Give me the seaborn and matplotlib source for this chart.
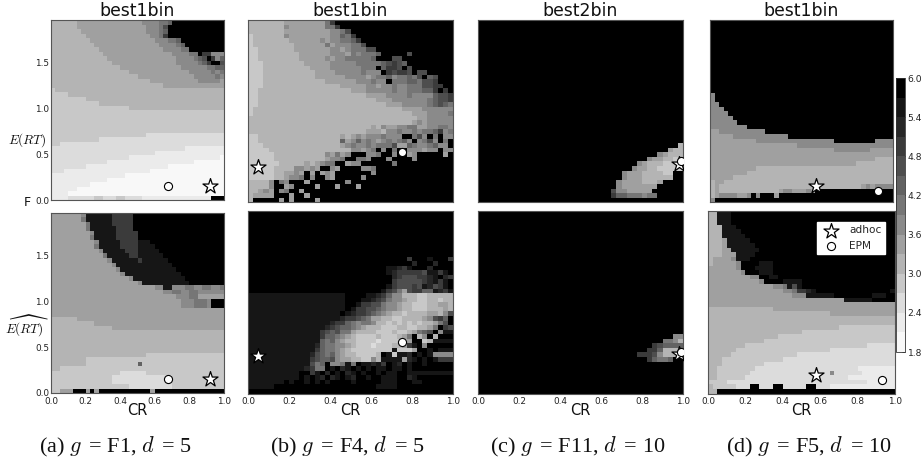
import re
import numpy as np
import pandas as pd
import seaborn as sns
import matplotlib
matplotlib.use("Agg")
import matplotlib.pyplot as plt
from matplotlib.colors import ListedColormap

W, H = 923, 461
N = 40
FMAX = 1.96

# a (lightest, 1.95) ... n (black, 5.85); letter + optional run length; the last letter fills the row
A1 = ["e6f15g4h2in","e6f16g3hjn","e7f15g3hin","e8f15g2hkn","e9f15g3hhin","e10f15g4hin","e11f15g4hhn",
"e12f16g4h2nkkgg","e13f16g4hijnkgi","e14f15g5hiknnjh","e16f14g6hhiijkk","e18f14g5hghi","e20f13g5hgg","e23f11g5f",
"e26f14","d1e39","d4e36","d8e32","d11e29","d18e22","d40","d40","d40","d40","d40","d22c18","d11c29","d2c38",
"c31b9","c24b16","c18b21a","c13b20a","c8b19a","c3b20a","b17a","b13a","b9a","b6a","b4a","b4c6d2c3d2c4b16n3"]
A2 = ["f7gm6k5n","f7hm6k5n","f8hm5k5n","f8hm6k4n","f9gm5k5n","f9hm5k5n","f10gm5k4m3n","f10hm5k4m4n","f11gm5k3m5n",
"f12hm5k2m6n","f13gm6km6n","f14gm13n","f15gm13n","f16gm13n","f18gm12n","f20gm11n","f24g2m2g3h2g2h2g2hjn","f26g2h2g2h2g4g2g",
"f29g3h2f6","f30g3h3gnnn","f30g3h3gn6","f30f10","f40","e6f34","e10f30","e14f26","e40","e40","e40","e40",
"e40","e22d18","e8d32","e8d12id19","e2d38","d16c6d18","d14c14d12","d14c14d12","d18c10d4","d2f3n3fnfnnn3n7fn17"]
B1 = ["e7f8hkn","e7gf7hhkn","e7f9gghjn","d1e6gf8ggihkn","d1e7f6gfgghhikn","d1e8f6hfggghhjn","d2e7f7ggfghhhjjn",
"d2e8f6gggfhghhhin5jn","d2e8f5gfgghhhhhin3jjn","d3e8f5ggggghhhhhijkjin","d3e9f4gggggghhhnikkjnjn",
"d3e10f4ggggghgggnkjkkjnjjn","d3e10f6ggggfghhighhihjnijn","d3e12f6ggghggnhhhiihjjkn","d3e15f5ggfgghgghhhjjkkn",
"d2e18f3g5hgghhhiiknkn","d2e21f4g4hggggijjkhn","d2e23f3g7hijjkhn","d2e25f3g5hijihn","d1e29f4g6ijjin",
"d1e31f3g4hjjggn","e33ffggggghhgn","e32fgfggggghggghn","e24fegffgghhffgghhgnn","e23f3egghgghghhikghngg",
"d2e16fefgfggghgggnnhjgnhngg","d2e16ifgighgfghghignghjgnhngn","d3e15fghgghghhhjffihgghiggnnn","d4e16ggfghngnhnngggfggngggn",
"d5e10gfhfgnnngghnngnnfgn5fnfn","d5e10fgghnnhhgnnngnn3gn","d6e5fefghhnnfggnnn4hn","d5e4ggfgfnngfnnnngghn","d5e2ffgfnfnfgfnnn5gn","d5e2fgghngnngfn5gn",
"e4gnhgnnnfn7gn","e4gnnfgnnnnfn3fn3fn","e2fgfnghnnfn","e1f4n3fnnfn","en5fnfnnnnfn"]
B2 = ["n"]*10 + ["n31kn3mn3kn","n32ln3ln3ln","n27mmlkmn3ln4mn","n27mlkkkkkjmmkmn","n28lkjjjkklmnlkn","n28kjjjjjklmkmn",
"n27mkjjjkjmljkmn","n26mkjhfjkkiimlkmn","m19n4m2lkiggeeeddeeeeeef","m19n3m2lkjhggfeeddeedeee","m19n2mkkjjhggfeedddeeffenn",
"m19nmkkjjihggfeedddeeefeegk","m18nmlkkjihgfeedeeeeffegjl","m17mlkkjihffeeddeeeefgjkin","m16lkkihghhgeededededeefhjnmk",
"m15lkjiihgfeeedddeeddeefhnkj","m14kjijhhfeeeedddeddefhijngm","m14kiihgfeddddedddefhnegnen","m14ihigfeeddddcddddefnndem",
"m13lihhggfedddcdddeefkmngn","m13kihhgfeddddddddmdddfnnmnm","m12ljihigfeeddddenmdmmlnmnmg","m12kjiijgffeeddgemmmmflmnmnmk",
"m12jhingghmhnmmlmknmlnmnnmn","m11lkhhnmnlmnmnmnmmnmmnmn","m10nnkmnlnmnlmnmnnmnmmnnmm","m10nmnmlnlmnmlnnmnnmmmnnlmnn",
"m7nmnnmnmnmnnnnmnnnnnmmmnnnmmn","m5n20mmmmn","n"]
C1 = ["n40"]*27 + ["n39e","n37fee","n35gfeee","n33gffeedd","n31gfeeedddd","n30gffeeddddd","n28gfffeeeeddn","n28gfffeeeeeen",
"n27gffffeeefn","n27gfffffffn","n26jggfffffn","n26kiihhhghhn","n40"]
C2 = ["n40"]*27 + ["n38gg","n36hhge","n34kjiiiiii","n33kkieeedd","n31kkkjgeeeeei","n33kihhin3kn","n40"] + ["n40"]*6
D1 = ["n40"]*16 + ["gn","gn","g2n","g3n","g4n","g5n","g6n","g8n","f2g10n","f5g12n","f10g17n9g","f19g","f27g8f5","f40",
"f36e4","f32e8","f10e30","f8e32","f5e35","e1f2e37","efe31fgfgg","efe13fggfffgfn","efggggffgngnnnfn","gn"]
D2 = ["e2m3n","e2m3n","e2m3n","e3m3n","e3m4n","e3m5n","e3fm5n","e3fm6n","e3ffm6n","e3fffm4n","ef4gm3n","ef5gn4m3n",
"f6gn3m4n","f7gn3m3n","f9ggnnm2n","f11gn4m4n","f14gghmjmn20mm","f16gghkklmn16mm","f18g3m6n8mmmn","f29m6n",
"f40","e14f26","e26f14","e40","e40","e28d12","e20d20","e15d25","e12d28","e8d26c6","e6d20c14","e5d14c21","e3d13c24",
"e3d9c28","e2d8c22b8","e2d7c17gc6b7","e2d6c22b10","d4c30b6","ed5c3n2c3n2c5n2c3b","e2n"]

LEVEL_VALUES = [1.95, 2.25, 2.55, 2.85, 3.15, 3.45, 3.75, 4.05, 4.35, 4.65, 4.95, 5.25, 5.55, 5.85]
LEVEL_GREYS = ["#f8f8f8", "#ebebeb", "#dcdcdc", "#c8c8c8", "#b4b4b4", "#a0a0a0", "#8a8a8a",
               "#767676", "#626262", "#4e4e4e", "#3b3b3b", "#272727", "#161616", "#000000"]
CBAR_TICKS = [1.8, 2.4, 3.0, 3.6, 4.2, 4.8, 5.4, 6.0]
X_TICKS = [0.0, 0.2, 0.4, 0.6, 0.8, 1.0]
Y_TICKS = [0.0, 0.5, 1.0, 1.5]

TITLES = ["best1bin", "best1bin", "best2bin", "best1bin"]
CAPTIONS = [r"(a) $g\,$ = F1, $d\,$ = 5", r"(b) $g\,$ = F4, $d\,$ = 5", r"(c) $g\,$ = F11, $d\,$ = 10", r"(d) $g\,$ = F5, $d\,$ = 10"]
PANELS_TOP = [A1, B1, C1, D1]
PANELS_BOTTOM = [A2, B2, C2, D2]
STAR_TOP = [(0.92, 0.15), (0.05, 0.38), (0.98, 0.41), (0.58, 0.18)]
EPM_TOP = [(0.675, 0.15), (0.75, 0.54), (0.99, 0.45), (0.92, 0.12)]
STAR_BOTTOM = [(0.92, 0.15), (0.05, 0.40), (0.98, 0.42), (0.58, 0.20)]
EPM_BOTTOM = [(0.675, 0.15), (0.75, 0.55), (0.99, 0.45), (0.93, 0.15)]

BOX_TOP = [(51, 20, 224, 200), (248, 20, 453, 202.5), (478, 20, 683, 202.5), (710, 20, 893, 202.5)]
BOX_BOTTOM = [(51, 213, 224, 393), (248, 211, 453, 393.5), (478, 211, 683, 393.5), (708, 211, 895, 393.5)]
CAPTION_X = [116, 347, 578, 809]


def parse(rows):
    out = []
    for r in rows:
        cells = []
        for ch, k in re.findall(r"([a-n])(\d*)", r):
            cells += [LEVEL_VALUES[ord(ch) - 97]] * (int(k) if k else 1)
        cells = (cells + [cells[-1]] * N)[:N]
        out.append(cells)
    return pd.DataFrame(out)


def add_axes(fig, box):
    x0, y0, x1, y1 = box
    return fig.add_axes([x0 / W, 1 - y1 / H, (x1 - x0) / W, (y1 - y0) / H])


plt.rcParams["mathtext.fontset"] = "cm"
sns.set_theme(style="white")
plt.rcParams["font.family"] = ["DejaVu Sans"]
fig = plt.figure(figsize=(W / 100, H / 100), dpi=100)
cmap = ListedColormap(LEVEL_GREYS)
mesh = None


def draw(box, rows, star, epm, left, bottom, title=None):
    global mesh
    ax = add_axes(fig, box)
    sns.heatmap(parse(rows), cmap=cmap, vmin=1.8, vmax=6.0, cbar=False, ax=ax, xticklabels=False, yticklabels=False)
    mesh = ax.collections[0]
    ax.set_xticks([v * N for v in X_TICKS])
    ax.set_yticks([N - v / FMAX * N for v in Y_TICKS])
    ax.set_xticklabels([f"{v:.1f}" for v in X_TICKS] if bottom else [], rotation=0)
    ax.set_yticklabels([f"{v:.1f}" for v in Y_TICKS] if left else [], rotation=0)
    ax.tick_params(direction="in", length=2, width=0.6, color="#333333", labelsize=6.4, pad=1.2,
                   top=True, right=True, bottom=True, left=True, labelcolor="#222222")
    ax.tick_params(axis="x", pad=2.6)
    for s in ax.spines.values():
        s.set_visible(True)
        s.set_color("#555555")
        s.set_linewidth(0.8)
    ax.scatter([star[0] * N], [N - star[1] / FMAX * N], marker="*", s=130, c="white",
               edgecolors="black", linewidths=0.9, label="adhoc", zorder=3)
    ax.scatter([epm[0] * N], [N - epm[1] / FMAX * N], marker="o", s=34, c="white",
               edgecolors="black", linewidths=0.8, label="EPM", zorder=4)
    ax.set_xlabel("")
    ax.set_ylabel("")
    if bottom:
        ax.set_xlabel("CR", fontsize=10.5, labelpad=-2.2, color="#111111")
    if title:
        ax.set_title(title, fontsize=12.4, pad=1.5, color="#111111")
    return ax


for i in range(4):
    draw(BOX_TOP[i], PANELS_TOP[i], STAR_TOP[i], EPM_TOP[i], i == 0, False, TITLES[i])
    last = draw(BOX_BOTTOM[i], PANELS_BOTTOM[i], STAR_BOTTOM[i], EPM_BOTTOM[i], i == 0, True)
    fig.text(CAPTION_X[i] / W, 1 - 446.5 / H, CAPTIONS[i], ha="center", va="center", fontsize=16,
             family="Liberation Serif", color="#111111")

leg = last.legend(loc="upper right", bbox_to_anchor=(0.975, 0.97), fontsize=7.6, frameon=True, fancybox=False,
                  framealpha=1, facecolor="white", edgecolor="white", labelspacing=0.5, handletextpad=0.7,
                  borderpad=0.35, scatterpoints=1)

cax = add_axes(fig, (896, 78, 905, 352))
cb = fig.colorbar(mesh, cax=cax, ticks=CBAR_TICKS)
cb.ax.set_yticklabels([f"{v:.1f}" for v in CBAR_TICKS])
cb.ax.tick_params(labelsize=6.6, length=2, width=0.5, direction="in", pad=2, right=True, labelcolor="#222222")
cb.outline.set_linewidth(0.6)
cb.outline.set_edgecolor("#333333")

fig.text(27 / W, 1 - 140 / H, r"$E(RT)$", ha="center", va="center", fontsize=9.5, color="#111111")
fig.text(27 / W, 1 - 326 / H, r"$\widehat{E(RT)}$", ha="center", va="center", fontsize=9.5, color="#111111")
fig.text(27 / W, 1 - 203 / H, "F", ha="center", va="center", fontsize=9, color="#111111")

fig.savefig("out.png", dpi=100)
